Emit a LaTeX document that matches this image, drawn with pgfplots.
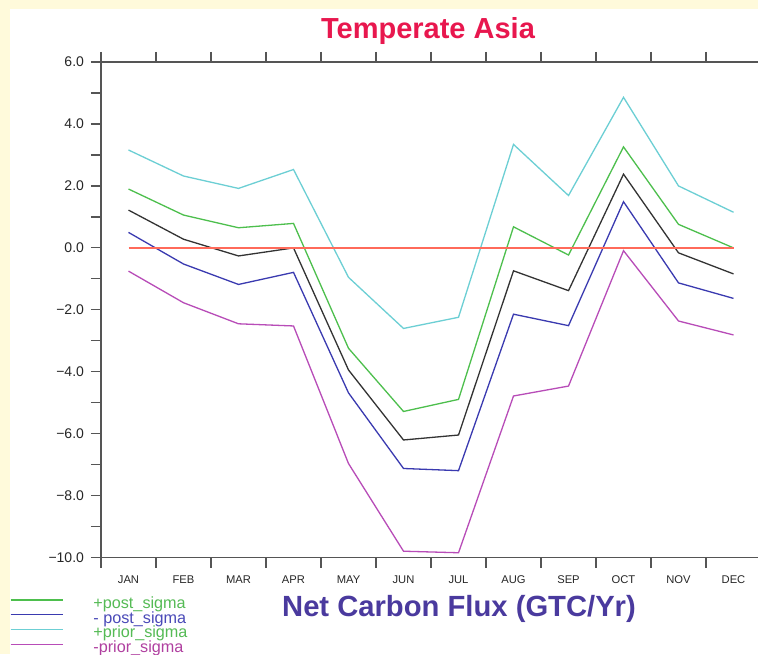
\documentclass[border=0pt]{standalone}
\usepackage{pgfplots}
\usepackage{pgfplotstable}
\pgfplotsset{compat=1.18}
\usepackage{fontspec}
\setmainfont{Liberation Sans}
\definecolor{bgy}{HTML}{FFFADB}
\definecolor{ttl}{HTML}{E8174E}
\definecolor{xlab}{HTML}{4A3A9E}
\definecolor{cy}{HTML}{6CCFD4}
\definecolor{gr}{HTML}{4DBF4D}
\definecolor{bl}{HTML}{3A3AB0}
\definecolor{mg}{HTML}{B84CB8}
\definecolor{rd}{HTML}{FF6A5A}
\definecolor{axc}{HTML}{555555}
\definecolor{lgr}{HTML}{55BB55}
\definecolor{lbl}{HTML}{4A4AB8}
\definecolor{lmg}{HTML}{B040A0}
\pgfplotstableread{
m  pprior ppost mean mpost mprior zero
1   3.16  1.90  1.22  0.50 -0.75 0
2   2.32  1.06  0.28 -0.52 -1.77 0
3   1.92  0.65 -0.26 -1.18 -2.45 0
4   2.53  0.79  0.00 -0.79 -2.52 0
5  -0.95 -3.24 -3.94 -4.68 -6.96 0
6  -2.60 -5.28 -6.20 -7.12 -9.79 0
7  -2.24 -4.89 -6.04 -7.19 -9.84 0
8   3.34  0.68 -0.74 -2.14 -4.78 0
9   1.69 -0.23 -1.38 -2.51 -4.46 0
10  4.86  3.26  2.38  1.49 -0.09 0
11  2.00  0.76 -0.16 -1.13 -2.36 0
12  1.15  0.00 -0.84 -1.63 -2.81 0
}\flux
\begin{document}
\begin{tikzpicture}
\useasboundingbox (0,0) rectangle (379pt,327pt);
\clip (0,0) rectangle (379pt,327pt);
\fill[bgy] (0,0) rectangle (379pt,327pt);
\fill[white] (5pt,0) rectangle (379pt,322.5pt);
\begin{axis}[
  at={(50.5pt,48.15pt)}, anchor=south west,
  scale only axis, width=330pt, height=247.85pt,
  xmin=0.5, xmax=12.5, ymin=-10, ymax=6,
  xtick={1,...,12},
  xticklabels={JAN,FEB,MAR,APR,MAY,JUN,JUL,AUG,SEP,OCT,NOV,DEC},
  minor xtick={0.5,1.5,...,12.5},
  ytick={-10,-8,-6,-4,-2,0,2,4,6},
  yticklabels={−10.0,−8.0,−6.0,−4.0,−2.0,0.0,2.0,4.0,6.0},
  minor ytick={-9,-7,-5,-3,-1,1,3,5},
  tick align=outside,
  major tick length=5pt, minor tick length=5pt,
  tick style={axc, line width=0.6pt},
  major x tick style={draw=none},
  axis line style={axc, line width=0.6pt},
  xticklabel style={font=\fontsize{5.6}{6}\selectfont, text=black!85, yshift=-0.5pt},
  yticklabel style={font=\fontsize{7}{7}\selectfont, text=black!85},
  legend style={at={(-0.138,-0.076)}, anchor=north west, draw=none, fill=none,
    inner sep=0pt, outer sep=0pt, font=\fontsize{8.1}{8.1}\selectfont, row sep=-1.2pt,
    nodes={inner sep=0.6pt}},
  legend cell align=left,
  legend image code/.code={\draw[#1] (0pt,2pt) -- (26pt,2pt); \path (40.5pt,0pt);},
  every axis plot/.append style={line width=0.65pt},
]
\addplot[gr] table[x=m,y=ppost]{\flux};
\addlegendentry{\textcolor{lgr}{+post\_sigma}}
\addplot[bl] table[x=m,y=mpost]{\flux};
\addlegendentry{\textcolor{lbl}{- post\_sigma}}
\addplot[cy] table[x=m,y=pprior]{\flux};
\addlegendentry{\textcolor{lgr}{+prior\_sigma}}
\addplot[mg] table[x=m,y=mprior]{\flux};
\addlegendentry{\textcolor{lmg}{-prior\_sigma}}
\addplot[black!80, forget plot] table[x=m,y=mean]{\flux};
\addplot[rd, forget plot] table[x=m,y=zero]{\flux};
\end{axis}
\node[anchor=base, text=ttl, font=\bfseries\fontsize{14.5}{15}\selectfont] at (214pt,307.5pt) {Temperate Asia};
\node[anchor=base, text=xlab, font=\bfseries\fontsize{14.6}{15}\selectfont] at (229.5pt,18.65pt) {Net Carbon Flux (GTC/Yr)};
\end{tikzpicture}
\end{document}
